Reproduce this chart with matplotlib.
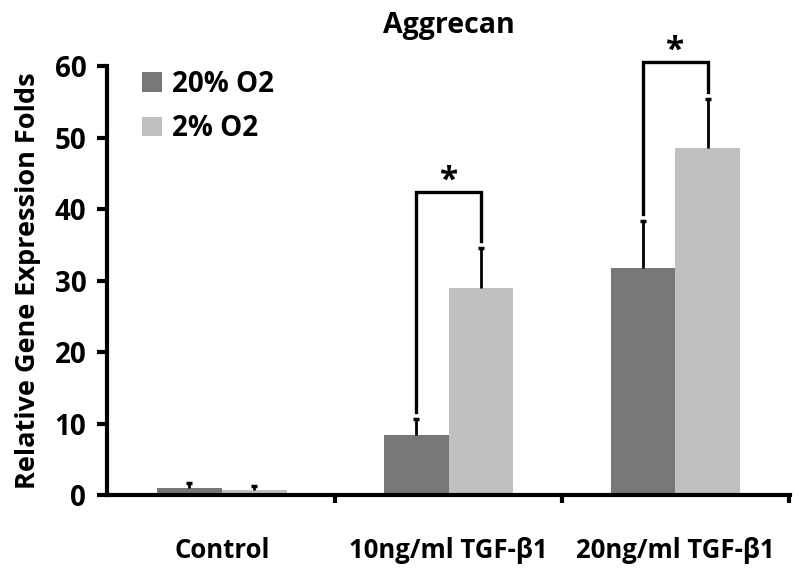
import numpy as np
import matplotlib
matplotlib.use('Agg')
import matplotlib.pyplot as plt

plt.rcParams['font.family'] = ['Open Sans', 'DejaVu Sans']
plt.rcParams['font.weight'] = 'bold'

# data
groups = ['Control', '10ng/ml TGF-β1', '20ng/ml TGF-β1']
series = ['20% O2', '2% O2']
normoxia = [1.0, 8.4, 31.7]
normoxia_err = [0.7, 2.2, 6.6]
hypoxia = [0.7, 29.0, 48.5]
hypoxia_err = [0.5, 5.5, 6.9]
sig_groups = [1, 2]
sig_height = [42.4, 60.6]

colors = ['#777777', '#c0c0c0']
width = 0.286

fig = plt.figure(figsize=(8, 5.7), dpi=100)
ax = fig.add_axes([0.134, 0.1316, 0.8535, 0.7524])

x = np.arange(len(groups))
for i, (vals, errs) in enumerate([(normoxia, normoxia_err), (hypoxia, hypoxia_err)]):
    pos = x + (i - 0.5) * width
    vals = np.array(vals)
    errs = np.array(errs)
    ax.bar(pos, vals, width, color=colors[i], label=series[i], zorder=2)
    # upper error bars only
    ax.vlines(pos, vals, vals + errs, color='black', lw=2, zorder=3)
    ax.plot(pos, vals + errs, ls='none', marker='_', ms=5, mew=2.5,
            color='black', zorder=3)

# significance brackets
allv = [normoxia, hypoxia]
alle = [normoxia_err, hypoxia_err]
for g, h in zip(sig_groups, sig_height):
    xl = g - 0.5 * width
    xr = g + 0.5 * width
    yl = allv[0][g] + alle[0][g] + 1.0
    yr = allv[1][g] + alle[1][g] + 1.0
    ax.plot([xl, xl, xr, xr], [yl, h, h, yr], color='black', lw=2.4,
            solid_joinstyle='miter', clip_on=False, zorder=4)
    ax.text(g, h - 0.8, '*', ha='center', va='bottom', fontsize=24,
            fontweight='bold', clip_on=False)

ax.set_xlim(-0.505, 2.505)
ax.set_ylim(0, 60)
ax.set_yticks(range(0, 61, 10))
ax.set_xticks(x)
ax.set_xticklabels(groups, fontsize=18.5, fontweight='bold')
ax.set_xticks([0.5, 1.5, 2.5], minor=True)
ax.tick_params(axis='x', which='major', length=0, pad=30)
ax.tick_params(axis='x', which='minor', length=6, width=3, direction='out')
ax.tick_params(axis='y', length=7, width=3, labelsize=20, pad=8)
for lab in ax.get_yticklabels():
    lab.set_fontweight('bold')

for s in ['top', 'right']:
    ax.spines[s].set_visible(False)
for s in ['left', 'bottom']:
    ax.spines[s].set_linewidth(3)

ax.set_ylabel('Relative Gene Expression Folds', fontsize=19.5, fontweight='bold', labelpad=10)
ax.set_title('Aggrecan', fontsize=20.5, fontweight='bold', pad=24)

leg = ax.legend(loc='upper left', bbox_to_anchor=(0.015, 1.05), frameon=False,
                fontsize=20, handlelength=0.7, handleheight=0.7, labelspacing=0.55,
                handletextpad=0.35)
for t in leg.get_texts():
    t.set_fontweight('bold')

fig.savefig('out.png', dpi=100)
